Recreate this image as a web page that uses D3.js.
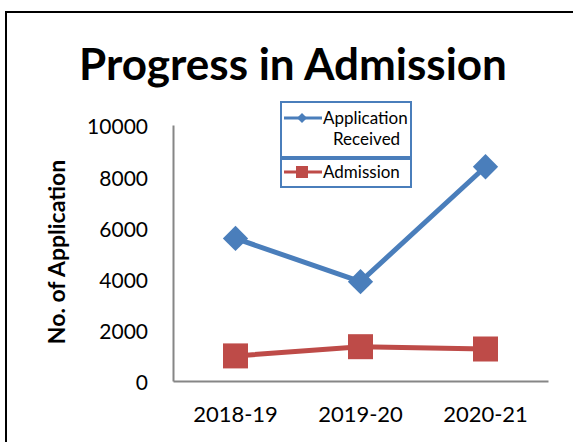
<!DOCTYPE html>
<html>
<head>
<meta charset="utf-8">
<script src="https://cdn.jsdelivr.net/npm/d3@7"></script>
<style>
  body { margin: 0; background: #fff; }
  svg { display: block; font-family: Lato, "Open Sans", sans-serif; }
</style>
</head>
<body>
<svg id="svg" width="573" height="442"></svg>
<script>
const years = ['2018-19', '2019-20', '2020-21'];
const applications = [5570, 3880, 8370];
const admissions = [980, 1340, 1250];
const yTicks = [0, 2000, 4000, 6000, 8000, 10000];

const svg = d3.select('#svg');
const plot = {left: 173, right: 548, top: 125, bottom: 381};

// outer frame (runs off the right and bottom edges)
svg.append('rect')
    .attr('x', 6).attr('y', 12)
    .attr('width', 620).attr('height', 500)
    .attr('fill', '#fff')
    .attr('stroke', '#000')
    .attr('stroke-width', 2);

svg.append('text')
    .attr('x', 293).attr('y', 80)
    .attr('text-anchor', 'middle')
    .attr('font-weight', 'bold')
    .attr('font-size', 44)
    .text('Progress in Admission');

const xScale = d3.scaleBand()
    .domain(years)
    .range([plot.left, plot.right])
    .padding(0);
const yScale = d3.scaleLinear()
    .domain([0, 10000])
    .range([plot.bottom, plot.top]);

const cx = d => xScale(d) + xScale.bandwidth() / 2;

// y axis
const yAxis = svg.append('g')
    .attr('transform', 'translate(' + plot.left + ',0)')
    .call(d3.axisLeft(yScale).tickValues(yTicks).tickSize(0).tickPadding(25).tickFormat(d3.format('d')));
yAxis.select('.domain').attr('stroke', '#868686').attr('stroke-width', 2);
yAxis.selectAll('text').attr('font-size', 21).attr('fill', '#000').attr('font-family', 'Lato').attr('dy', '0.42em');

// x axis
const xAxis = svg.append('g')
    .attr('transform', 'translate(0,' + plot.bottom + ')')
    .call(d3.axisBottom(xScale).tickSize(0).tickPadding(25));
xAxis.select('.domain').attr('stroke', '#868686').attr('stroke-width', 2);
xAxis.selectAll('text').attr('font-size', 22).attr('fill', '#000').attr('font-family', 'Lato');

// y axis title
svg.append('text')
    .attr('transform', 'translate(65,252) rotate(-90)')
    .attr('text-anchor', 'middle')
    .attr('font-weight', 'bold')
    .attr('font-size', 23)
    .text('No. of Application');

const blue = '#4a7ebb';
const red = '#be4b48';

const line = d3.line()
    .x((d, i) => cx(years[i]))
    .y(d => yScale(d));

svg.append('path')
    .datum(applications)
    .attr('d', line)
    .attr('fill', 'none')
    .attr('stroke', blue)
    .attr('stroke-width', 5);

svg.append('path')
    .datum(admissions)
    .attr('d', line)
    .attr('fill', 'none')
    .attr('stroke', red)
    .attr('stroke-width', 5);

const diamond = d3.symbol().type(d3.symbolSquare).size(320);
svg.selectAll('.app-pt').data(applications).enter()
    .append('path')
    .attr('class', 'app-pt')
    .attr('d', diamond)
    .attr('transform', (d, i) => 'translate(' + cx(years[i]) + ',' + yScale(d) + ') rotate(45)')
    .attr('fill', blue);

svg.selectAll('.adm-pt').data(admissions).enter()
    .append('rect')
    .attr('class', 'adm-pt')
    .attr('x', (d, i) => cx(years[i]) - 12.5)
    .attr('y', d => yScale(d) - 12.5)
    .attr('width', 25).attr('height', 25)
    .attr('fill', red);

// legend
const legend = svg.append('g');
legend.append('rect')
    .attr('x', 281).attr('y', 102).attr('width', 130).attr('height', 55)
    .attr('fill', '#fff').attr('stroke', '#4a7ebb').attr('stroke-width', 2);
legend.append('rect')
    .attr('x', 281).attr('y', 159).attr('width', 130).attr('height', 28)
    .attr('fill', '#fff').attr('stroke', '#4a7ebb').attr('stroke-width', 2);

legend.append('line')
    .attr('x1', 284).attr('x2', 322).attr('y1', 118).attr('y2', 118)
    .attr('stroke', blue).attr('stroke-width', 3);
legend.append('path')
    .attr('d', d3.symbol().type(d3.symbolSquare).size(50))
    .attr('transform', 'translate(302,118) rotate(45)')
    .attr('fill', blue);
legend.append('text')
    .attr('x', 323).attr('y', 124)
    .attr('font-size', 17)
    .text('Application');
legend.append('text')
    .attr('x', 333).attr('y', 145)
    .attr('font-size', 17)
    .text('Received');

legend.append('line')
    .attr('x1', 284).attr('x2', 322).attr('y1', 172).attr('y2', 172)
    .attr('stroke', red).attr('stroke-width', 3);
legend.append('rect')
    .attr('x', 296).attr('y', 166).attr('width', 12).attr('height', 12)
    .attr('fill', red);
legend.append('text')
    .attr('x', 323).attr('y', 178)
    .attr('font-size', 17)
    .text('Admission');
</script>
</body>
</html>
